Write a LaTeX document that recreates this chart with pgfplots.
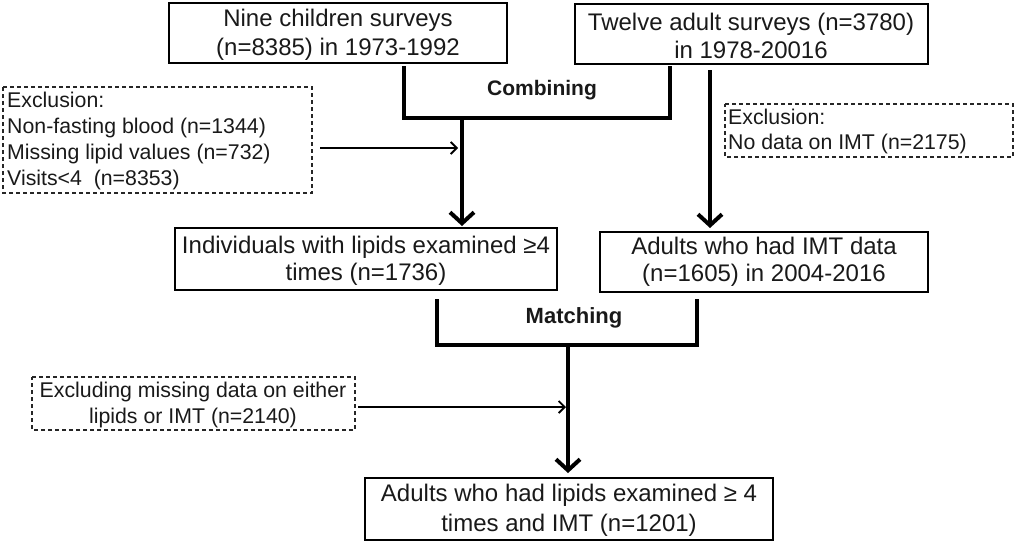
\documentclass[border=0pt]{standalone}
\usepackage{fontspec}
\setmainfont{Liberation Sans}
\usepackage{pgfplots}
\pgfplotsset{compat=1.18}
\usetikzlibrary{arrows.meta}
\definecolor{txt}{RGB}{25,25,25}
\begin{document}
\begin{tikzpicture}
\begin{axis}[width=1016pt,height=542pt,scale only axis,
  xmin=0,xmax=1016,ymin=0,ymax=542,y dir=reverse,hide axis,clip=false]
\addplot[draw=none] coordinates {(0,0) (1016,542)};
% solid boxes
\addplot[black,line width=2.4pt,line cap=rect,line join=miter] coordinates {(169,3) (507,3) (507,63) (169,63) (169,3)};
\addplot[black,line width=2.4pt,line cap=rect,line join=miter] coordinates {(575,4) (928,4) (928,64) (575,64) (575,4)};
\addplot[black,line width=2.4pt,line cap=rect,line join=miter] coordinates {(175,228) (557,228) (557,290) (175,290) (175,228)};
\addplot[black,line width=2.4pt,line cap=rect,line join=miter] coordinates {(600,232) (928,232) (928,292) (600,292) (600,232)};
\addplot[black,line width=2.4pt,line cap=rect,line join=miter] coordinates {(365,478) (773,478) (773,540) (365,540) (365,478)};
% dashed boxes
\addplot[black!85,line width=1.2pt,dash pattern=on 4pt off 3pt] coordinates {(3,87) (312,87) (312,193) (3,193) (3,87)};
\addplot[black!85,line width=1.2pt,dash pattern=on 4pt off 3pt] coordinates {(725,104) (1013,104) (1013,157) (725,157) (725,104)};
\addplot[black!85,line width=1.2pt,dash pattern=on 4pt off 3pt] coordinates {(32,377) (355,377) (355,430) (32,430) (32,377)};
% brackets
\addplot[black,line width=4pt,line join=miter] coordinates {(404,66) (404,118) (670,118) (670,66)};
\addplot[black,line width=4pt,line join=miter] coordinates {(437,299) (437,345) (697,345) (697,299)};
% thick arrows
\addplot[black,line width=4pt,-{Straight Barb[length=11pt,width=24pt]}] coordinates {(462,118) (462,226)};
\addplot[black,line width=4pt,-{Straight Barb[length=11pt,width=24pt]}] coordinates {(710,70) (710,228)};
\addplot[black,line width=4pt,-{Straight Barb[length=11pt,width=24pt]}] coordinates {(568,345) (568,473)};
% thin arrows
\addplot[black,line width=1.8pt,-{Straight Barb[length=6pt,width=12pt]}] coordinates {(320,148) (458,148)};
\addplot[black,line width=1.8pt,-{Straight Barb[length=6pt,width=12pt]}] coordinates {(358,407) (566,407)};
% texts
\node[font=\fontsize{24}{29}\selectfont,align=center,text=txt,inner sep=0pt] at (axis cs:338,35) {Nine children surveys\\(n=8385) in 1973-1992};
\node[font=\fontsize{24}{28}\selectfont,align=center,text=txt,inner sep=0pt] at (axis cs:751,36) {Twelve adult surveys (n=3780)\\in 1978-20016};
\node[font=\bfseries\fontsize{21}{25}\selectfont,text=txt,inner sep=0pt] at (axis cs:542,90) {Combining};
\node[font=\fontsize{24}{27}\selectfont,align=center,text=txt,inner sep=0pt] at (axis cs:366,261) {Individuals with lipids examined ≥4\\times (n=1736)};
\node[font=\fontsize{24}{27}\selectfont,align=center,text=txt,inner sep=0pt] at (axis cs:764,262) {Adults who had IMT data\\(n=1605) in 2004-2016};
\node[font=\bfseries\fontsize{22}{25}\selectfont,text=txt,inner sep=0pt] at (axis cs:574,318) {Matching};
\node[font=\fontsize{24}{30}\selectfont,align=center,text=txt,inner sep=0pt] at (axis cs:569,510) {Adults who had lipids examined ≥ 4\\times and IMT (n=1201)};
\node[font=\fontsize{21.3}{26}\selectfont,align=left,text=txt,inner sep=0pt,anchor=west] at (axis cs:7,141) {Exclusion:\\Non-fasting blood (n=1344)\\Missing lipid values (n=732)\\Visits<4\ \ (n=8353)};
\node[font=\fontsize{21.3}{25}\selectfont,align=left,text=txt,inner sep=0pt,anchor=west] at (axis cs:728,131) {Exclusion:\\No data on IMT (n=2175)};
\node[font=\fontsize{21.3}{26}\selectfont,align=center,text=txt,inner sep=0pt] at (axis cs:193,405) {Excluding missing data on either\\lipids or IMT (n=2140)};
\end{axis}
\end{tikzpicture}
\end{document}
